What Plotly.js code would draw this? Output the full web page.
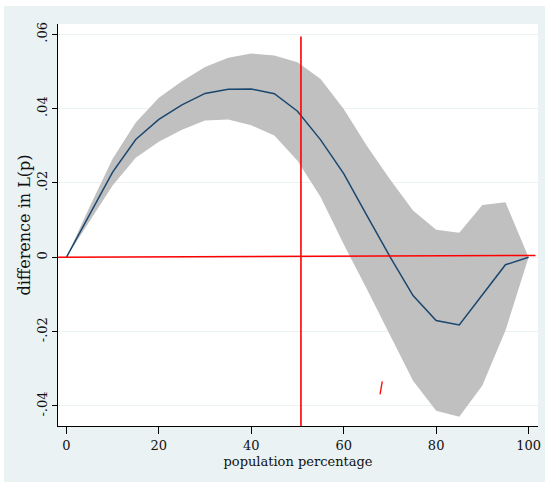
<!DOCTYPE html>
<html>
<head>
<meta charset="utf-8">
<script src="https://cdn.plot.ly/plotly-3.0.1.min.js"></script>
<style>
  html, body { margin: 0; padding: 0; background: #ffffff; width: 545px; height: 491px; overflow: hidden; }
  #chart { position: absolute; left: 4px; top: 6px; width: 541px; height: 476px; }
</style>
</head>
<body>
<div id="chart"></div>
<script>
// ---- data ----
const popPct = [0, 5, 10, 15, 20, 25, 30, 35, 40, 45, 50, 55, 60, 65, 70, 75, 80, 85, 90, 95, 100];
const diffL  = [0, 0.0113, 0.0229, 0.0317, 0.0371, 0.0410, 0.0441, 0.0452, 0.0453, 0.0440, 0.0393, 0.0316, 0.0225, 0.0113, 0.0002, -0.0103, -0.0170, -0.0182, -0.0101, -0.0020, 0];
const upperCI = [0, 0.0135, 0.0265, 0.0363, 0.0429, 0.0474, 0.0512, 0.0537, 0.0548, 0.0543, 0.0525, 0.0480, 0.0399, 0.0300, 0.0210, 0.0126, 0.0074, 0.0066, 0.0141, 0.0148, 0];
const lowerCI = [0, 0.0095, 0.0193, 0.0268, 0.0311, 0.0343, 0.0368, 0.0371, 0.0355, 0.0328, 0.0260, 0.0162, 0.0035, -0.0085, -0.0207, -0.0332, -0.0413, -0.0429, -0.0345, -0.0197, 0];

const yTickVals = [-0.04, -0.02, 0, 0.02, 0.04, 0.06];
const yTickText = ['-.04', '-.02', '0', '.02', '.04', '.06'];
const xTickVals = [0, 20, 40, 60, 80, 100];
const xTickText = ['0', '20', '40', '60', '80', '100'];

// reference lines
const hLineX = [-1.8, 101.5];
const hLineY = [0, 0.0005];
const vLineX = [50.75, 50.75];
const vLineY = [-0.0454, 0.0594];
// small red stroke seen in the reference
const markX = [67.86, 68.35];
const markY = [-0.0369, -0.0334];

const xRange = [-1.82, 102.04];
const yRange = [-0.04539, 0.06277];

const FONT = 'DejaVu Serif, serif';
const RED = '#ff0000';

const traces = [
  { x: popPct, y: lowerCI, type: 'scatter', mode: 'lines', line: { width: 0, color: '#c0c0c0' }, hoverinfo: 'skip', showlegend: false },
  { x: popPct, y: upperCI, type: 'scatter', mode: 'lines', fill: 'tonexty', fillcolor: '#c0c0c0', line: { width: 0, color: '#c0c0c0' }, hoverinfo: 'skip', showlegend: false },
  { x: popPct, y: diffL, type: 'scatter', mode: 'lines', line: { width: 1.5, color: '#1a476f' }, showlegend: false },
  { x: hLineX, y: hLineY, type: 'scatter', mode: 'lines', line: { width: 1.6, color: RED }, showlegend: false, cliponaxis: false },
  { x: vLineX, y: vLineY, type: 'scatter', mode: 'lines', line: { width: 1.6, color: RED }, showlegend: false },
  { x: markX, y: markY, type: 'scatter', mode: 'lines', line: { width: 1.3, color: RED }, showlegend: false }
];

const layout = {
  width: 541, height: 476,
  paper_bgcolor: '#eaf2f3',
  plot_bgcolor: '#ffffff',
  margin: { l: 54, r: 7, t: 18, b: 56 },
  showlegend: false,
  font: { family: FONT, size: 13, color: '#000000' },
  xaxis: {
    range: xRange,
    tickvals: xTickVals, ticktext: xTickText,
    ticks: 'outside', ticklen: 7, tickwidth: 1, tickcolor: '#000000',
    showgrid: false, zeroline: false,
    showline: true, linecolor: '#000000', linewidth: 1,
    tickfont: { family: FONT, size: 13, color: '#111111' },
    title: { text: 'population percentage', font: { family: FONT, size: 13, color: '#111111' }, standoff: 5 }
  },
  yaxis: {
    range: yRange,
    tickvals: yTickVals, ticktext: yTickText, tickangle: -90,
    ticks: 'outside', ticklen: 5, tickwidth: 1, tickcolor: '#000000',
    showgrid: true, gridcolor: '#eaf2f3', gridwidth: 1,
    zeroline: false,
    showline: true, linecolor: '#000000', linewidth: 1,
    tickfont: { family: FONT, size: 13, color: '#111111' },
    title: { text: 'difference in L(p)', font: { family: FONT, size: 16, color: '#111111' }, standoff: 0 }
  }
};

Plotly.newPlot('chart', traces, layout, { displayModeBar: false, staticPlot: true });
</script>
</body>
</html>
